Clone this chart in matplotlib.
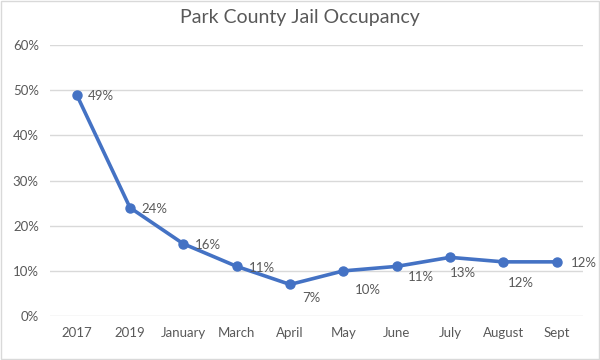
import matplotlib
matplotlib.use('Agg')
import matplotlib.pyplot as plt
from matplotlib.ticker import PercentFormatter

months = ['2017', '2019', 'January', 'March', 'April', 'May', 'June', 'July', 'August', 'Sept']
occupancy = [49, 24, 16, 11, 7, 10, 11, 13, 12, 12]

# label offsets in points (dx, dy)
offsets = [(8, -1), (8, -1), (8, -1), (9, -1), (9, -10), (8, -14), (8, -8), (0, -11.5), (3, -15), (10, -1)]

plt.rcParams['font.family'] = ['Lato', 'DejaVu Sans']
grey = '#595959'

fig = plt.figure(figsize=(6, 3.6), dpi=100)
ax = fig.add_axes([0.0833, 0.122, 0.889, 0.753])
x = list(range(len(months)))
ax.plot(x, occupancy, color='#4472C4', linewidth=2.6, marker='o', markersize=6.5)

for xi, v, (dx, dy) in zip(x, occupancy, offsets):
    ax.annotate('%d%%' % v, (xi, v), xytext=(dx, dy), textcoords='offset points',
                ha='left', va='center', fontsize=9.5, color=grey)

ax.set_xlim(-0.5, len(months) - 0.5)
ax.set_ylim(0, 60)
ax.set_yticks(range(0, 61, 10))
ax.yaxis.set_major_formatter(PercentFormatter(decimals=0))
ax.set_xticks(x)
ax.set_xticklabels(months)
ax.tick_params(length=0, labelsize=9.5, labelcolor=grey)
ax.tick_params(axis='x', pad=8)
ax.tick_params(axis='y', pad=8)
ax.grid(axis='y', color='#D9D9D9', linewidth=1)
ax.set_axisbelow(True)
for s in ax.spines.values():
    s.set_visible(False)

fig.text(0.5, 0.952, 'Park County Jail Occupancy', ha='center', va='center', fontsize=14, color=grey)
fig.patches.append(plt.Rectangle((0.001, 0.002), 0.997, 0.995, transform=fig.transFigure,
                                 fill=False, edgecolor='#D9D9D9', linewidth=1))

fig.savefig('out.png', dpi=100)
